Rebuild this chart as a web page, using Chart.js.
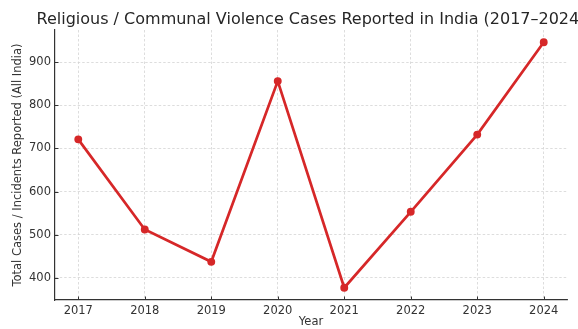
<!DOCTYPE html>
<html>
<head>
<meta charset="utf-8">
<script src="https://cdn.jsdelivr.net/npm/chart.js@4"></script>
<style>
  html, body { margin: 0; padding: 0; background: #fff; }
  #wrap { width: 578px; height: 329px; position: relative; }
</style>
</head>
<body>
<div id="wrap"><canvas id="chart"></canvas></div>
<script>
const chartTitle = 'Religious / Communal Violence Cases Reported in India (2017–2024)';
const years = [2017, 2018, 2019, 2020, 2021, 2022, 2023, 2024];
const cases = [721, 512, 437, 856, 377, 553, 732, 946];
const yTicks = [400, 500, 600, 700, 800, 900];

const FONT = 'DejaVu Sans';
const RED = '#d62728';

// title centred over the plot area, like matplotlib (gets clipped on the right)
const titlePlugin = {
    id: 'axTitle',
    afterDraw(chart) {
        const ctx = chart.ctx;
        const area = chart.chartArea;
        ctx.save();
        ctx.font = '16px "' + FONT + '"';
        ctx.fillStyle = '#262626';
        ctx.textAlign = 'center';
        ctx.textBaseline = 'alphabetic';
        ctx.fillText(chartTitle, (area.left + area.right) / 2, 24);
        ctx.restore();
    }
};

// small inward tick marks
const tickPlugin = {
    id: 'inTicks',
    afterDatasetsDraw(chart) {
        const ctx = chart.ctx;
        const area = chart.chartArea;
        const xs = chart.scales.x;
        const ys = chart.scales.y;
        ctx.save();
        ctx.strokeStyle = '#333';
        ctx.lineWidth = 1;
        ctx.beginPath();
        years.forEach((v) => {
            const px = Math.round(xs.getPixelForValue(v)) + 0.5;
            ctx.moveTo(px, area.bottom);
            ctx.lineTo(px, area.bottom - 3.5);
        });
        yTicks.forEach((v) => {
            const py = Math.round(ys.getPixelForValue(v)) + 0.5;
            ctx.moveTo(area.left, py);
            ctx.lineTo(area.left + 3.5, py);
        });
        ctx.stroke();
        ctx.restore();
    }
};

const gridOpts = {
    color: '#d4d4d4',
    lineWidth: 0.8,
    drawTicks: false
};

new Chart(document.getElementById('chart'), {
    type: 'line',
    data: {
        datasets: [{
            data: years.map((y, i) => ({ x: y, y: cases[i] })),
            borderColor: RED,
            backgroundColor: RED,
            borderWidth: 2.7,
            pointRadius: 2.6,
            pointHoverRadius: 2.6,
            tension: 0,
            fill: false
        }]
    },
    options: {
        responsive: true,
        maintainAspectRatio: false,
        animation: false,
        layout: { padding: { left: 0, right: 11, top: 30, bottom: 0 } },
        plugins: {
            legend: { display: false },
            title: { display: false },
            tooltip: { enabled: false }
        },
        scales: {
            x: {
                type: 'linear',
                min: 2016.65,
                max: 2024.35,
                afterBuildTicks: (s) => { s.ticks = years.map((v) => ({ value: v })); },
                afterFit: (s) => { s.height = 29; },
                grid: gridOpts,
                border: { display: true, color: '#333', width: 1.2, dash: [2.5, 2] },
                ticks: {
                    padding: 4,
                    color: '#333',
                    font: { family: FONT, size: 11.5 },
                    callback: (v) => String(v),
                    maxRotation: 0
                },
                title: {
                    display: true,
                    text: 'Year',
                    color: '#333',
                    font: { family: FONT, size: 11.5 },
                    padding: { top: 0, bottom: 0 }
                }
            },
            y: {
                min: 348.5,
                max: 974.5,
                afterBuildTicks: (s) => { s.ticks = yTicks.map((v) => ({ value: v })); },
                afterFit: (s) => { s.width = 55; },
                grid: gridOpts,
                border: { display: true, color: '#333', width: 1.2, dash: [2.5, 2] },
                ticks: {
                    padding: 4,
                    color: '#333',
                    font: { family: FONT, size: 11.5 },
                    callback: (v) => String(v)
                },
                title: {
                    display: true,
                    text: 'Total Cases / Incidents Reported (All India)',
                    color: '#333',
                    font: { family: FONT, size: 11.5 },
                    padding: { top: 11, bottom: 0 }
                }
            }
        }
    },
    plugins: [titlePlugin, tickPlugin]
});
</script>
</body>
</html>
